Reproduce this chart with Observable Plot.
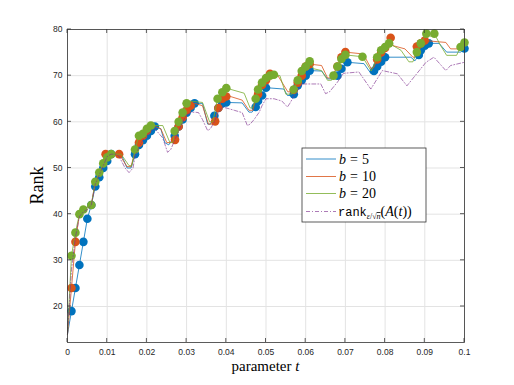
<!DOCTYPE html>
<html><head><meta charset="utf-8">
<script src="https://cdn.jsdelivr.net/npm/d3@7"></script>
<script src="https://cdn.jsdelivr.net/npm/@observablehq/plot@0.6"></script>
<style>body{margin:0;background:#fff} svg{display:block}</style>
</head><body><div id="chart"></div>
<script>
const xTicks = [0,0.01,0.02,0.03,0.04,0.05,0.06,0.07,0.08,0.09,0.1];
const xTickLabels = ["0","0.01","0.02","0.03","0.04","0.05","0.06","0.07","0.08","0.09","0.1"];
const yTicks = [20,30,40,50,60,70,80];
const yDomain = [12.2, 80];

// b = 5
const blueT = [0,.001,.002,.003,.004,.005,.006,.007,.008,.009,.010,.011,.0135,.015,.016,.017,.018,.019,.020,.021,.022,.0235,.0245,.0255,.027,.028,.029,.030,.031,.032,.034,.0353,.036,.037,.038,.039,.040,.044,.0457,.0465,.0474,.048,.049,.050,.0545,.0554,.0565,.057,.058,.059,.060,.061,.064,.0655,.0665,.068,.069,.0705,.0747,.0764,.0772,.078,.079,.080,.0865,.0875,.0885,.089,.090,.091,.0936,.0955,.099,.100];
const blueV = [14,19,24,29,34,39,42,46,48,50,51.5,53,53,50,50,53,55,56,57,58,59,58.5,55.5,55,57,59,60.5,62,63,64,64,59.5,59.5,61.3,63,64,64.2,64.1,62.1,62.1,63.2,64.5,65.7,67.4,67.1,65.7,65.7,66,67.9,69,70,71.1,71,69.3,69.3,70,71.5,72.9,72.6,70.5,71,72,73,74,74,73.2,74.5,75.5,76.5,77,77,75.1,75.1,75.9];
const blueMarks = [.001,.002,.003,.004,.005,.006,.007,.008,.009,.010,.011,.017,.018,.019,.020,.021,.022,.027,.028,.029,.030,.031,.032,.037,.038,.039,.040,.0474,.048,.049,.050,.057,.058,.059,.060,.061,.068,.069,.0705,.0772,.078,.079,.080,.0885,.089,.090,.091,.100];

// b = 10
const orangeT = [0,.001,.002,.003,.004,.005,.006,.007,.008,.009,.0096,.011,.013,.015,.016,.017,.018,.019,.020,.021,.022,.0235,.025,.026,.0271,.028,.029,.030,.031,.032,.034,.0355,.0365,.0372,.038,.039,.040,.041,.044,.0457,.0467,.047,.048,.049,.050,.051,.053,.0555,.0565,.057,.058,.059,.060,.061,.064,.0655,.0665,.067,.068,.069,.070,.0745,.0765,.0772,.078,.079,.080,.0814,.082,.085,.087,.0875,.088,.089,.090,.0953,.0965,.100];
const orangeV = [14,24,34,40,41,41.5,42,47,49,51,53,53,53,50.3,50.3,53.5,55.5,57,58.1,59,59,58.5,55.5,55.5,56.1,59,61,62.5,63.5,64,63.5,59.5,59.5,60.1,63,65,65.5,65.5,64.7,62.5,62.5,63.5,66,68,69,70.4,70,66.5,66.5,66.9,68.5,70,72,72.5,72.2,69.5,69.5,70.5,72,74,75.1,74.7,71.5,71.8,73.5,75,76,78.2,76.5,75.8,74,74,76.3,77,77.6,77.2,75.8,75.8];
const orangeMarks = [.001,.002,.0096,.013,.018,.019,.020,.0271,.028,.029,.030,.031,.0372,.038,.039,.040,.048,.049,.050,.051,.057,.058,.059,.060,.061,.068,.069,.070,.078,.079,.080,.0814,.088,.089,.090];

// b = 20
const greenT = [0,.001,.002,.003,.004,.005,.006,.007,.008,.009,.010,.011,.0135,.0155,.0162,.017,.018,.019,.020,.021,.024,.0258,.0265,.027,.028,.029,.030,.031,.034,.0358,.0366,.0378,.039,.040,.0445,.046,.0466,.0474,.048,.049,.050,.051,.052,.0535,.055,.0565,.057,.058,.059,.060,.061,.062,.064,.0655,.0665,.067,.068,.069,.070,.0743,.0765,.077,.078,.079,.080,.081,.084,.086,.087,.088,.089,.0904,.0915,.0924,.094,.0955,.098,.099,.100];
const greenV = [14,31,36,40,41,41.5,42,47,49,51,52.3,53,53,50.5,50.5,54,57,57.4,58.5,59.2,59.2,55.5,55.5,58,60,62,64,64.5,64.2,60,60,65,66.4,67.3,66.2,63,63,65,67,68.5,69.5,70,70.2,70,66,66,67,69,71,72,73.1,71.5,71.1,69,69,70,72,73.6,74.5,74.1,71,72,74,75.5,76.2,77,75.5,73,73,75.1,77,79.1,78.5,79.1,76.5,74.4,74.4,76.2,77.2];
const greenMarks = [.001,.002,.003,.004,.006,.007,.008,.009,.010,.011,.017,.018,.019,.020,.021,.027,.028,.029,.030,.0378,.039,.040,.0474,.048,.049,.050,.051,.052,.057,.058,.059,.060,.061,.067,.068,.069,.070,.0743,.078,.079,.080,.081,.088,.089,.0904,.0924,.099,.100];

// rank_{eps/sqrt(n)}(A(t))
const rankT = [0,.001,.002,.003,.004,.005,.006,.007,.008,.009,.010,.011,.012,.013,.0145,.0155,.0165,.017,.018,.019,.020,.021,.022,.023,.024,.0252,.026,.027,.028,.029,.030,.031,.032,.033,.034,.0353,.036,.037,.038,.039,.040,.042,.044,.0453,.046,.047,.0483,.049,.050,.052,.054,.0554,.056,.057,.0585,.0592,.0638,.065,.066,.068,.0695,.0734,.0764,.0793,.0831,.0855,.0903,.0923,.0953,.0965,.100];
const rankV = [14,28,35,39.5,40.5,41,42,46.5,48.5,50.5,52.5,53,53,52.5,50,49,50,52.5,54.5,56,57,58,58.5,57.5,56.5,53.4,54,56,58,60,61.5,62,62.1,62,60.5,58.1,58.5,60,62,63.2,63,62.5,62,59.2,59.5,60.5,62.1,63.5,65,65,64.5,63.2,64,65.5,67.5,68.2,68.2,66.1,66.5,68.6,70.5,70.8,67.1,71.1,70.4,67.8,72.9,74,71.1,72.2,72.9];

const C = {blue:"#0072BD", orange:"#D95319", green:"#77AC30", purple:"#7E2F8E"};

function rows(T, V, M) {
  return T.map((t, i) => ({t, v: V[i], m: M ? M.some(m => Math.abs(m - t) < 1e-9) : false}));
}
const blue = rows(blueT, blueV, blueMarks);
const orange = rows(orangeT, orangeV, orangeMarks);
const green = rows(greenT, greenV, greenMarks);
const rank = rows(rankT, rankV, null);

const series = [[blue, C.blue], [orange, C.orange], [green, C.green]];
const marks = [
  Plot.gridX(xTicks, {stroke: "#e3e3e3", strokeOpacity: 1, strokeWidth: 1}),
  Plot.gridY(yTicks, {stroke: "#e3e3e3", strokeOpacity: 1, strokeWidth: 1}),
];
for (const [d, c] of series) {
  marks.push(Plot.line(d, {x: "t", y: "v", stroke: c, strokeWidth: 0.8}));
  marks.push(Plot.dot(d.filter(e => e.m), {x: "t", y: "v", r: 4.3, fill: c, stroke: "none"}));
}
marks.push(Plot.line(rank, {x: "t", y: "v", stroke: C.purple, strokeWidth: 0.8, strokeDasharray: "4,2,1,2", strokeOpacity: 0.8}));
marks.push(Plot.frame({stroke: "#333", strokeWidth: 0.8}));
marks.push(Plot.axisX(xTicks, {tickSize: 0, tickPadding: 6, tickFormat: (d, i) => xTickLabels[i], fontSize: 8.5, fill: "#262626", label: null}));
marks.push(Plot.axisY(yTicks, {tickSize: 0, tickPadding: 5, fontSize: 8.5, fill: "#262626", label: null}));

const svgEl = Plot.plot({
  width: 514, height: 385,
  marginLeft: 67, marginRight: 50, marginTop: 29, marginBottom: 43,
  x: {domain: [0, 0.1]},
  y: {domain: yDomain},
  style: {fontFamily: "'Liberation Sans', Arial, sans-serif", background: "#fff"},
  marks
});
document.getElementById("chart").appendChild(svgEl);

const xs = svgEl.scale("x"), ys = svgEl.scale("y");
const svg = d3.select(svgEl);
const [x0, x1] = xs.range, [yb, yt] = ys.range;
const tk = svg.append("g").attr("stroke", "#333").attr("stroke-width", 0.8);
for (const v of xTicks) {
  const px = xs.apply(v);
  tk.append("line").attr("x1", px).attr("x2", px).attr("y1", yb).attr("y2", yb - 4);
  tk.append("line").attr("x1", px).attr("x2", px).attr("y1", yt).attr("y2", yt + 4);
}
for (const v of yTicks) {
  const py = ys.apply(v);
  tk.append("line").attr("x1", x0).attr("x2", x0 + 4).attr("y1", py).attr("y2", py);
  tk.append("line").attr("x1", x1).attr("x2", x1 - 4).attr("y1", py).attr("y2", py);
}

const serif = "'Liberation Serif', 'DejaVu Serif', serif";
// axis labels
const xl = svg.append("text").attr("x", (x0 + x1) / 2).attr("y", 371).attr("text-anchor", "middle")
  .attr("font-family", serif).attr("font-size", 15).attr("fill", "#000");
xl.append("tspan").text("parameter ");
xl.append("tspan").attr("font-style", "italic").text("t");
svg.append("text").attr("transform", `translate(43,${(yb + yt) / 2}) rotate(-90)`).attr("text-anchor", "middle")
  .attr("font-family", serif).attr("font-size", 18).attr("fill", "#000").text("Rank");

// legend
const lg = svg.append("g").attr("text-anchor", "start");
lg.append("rect").attr("x", 302).attr("y", 148).attr("width", 124).attr("height", 74)
  .attr("fill", "#fff").attr("stroke", "#333").attr("stroke-width", 0.8);
const entries = [
  {c: C.blue, lab: "5"}, {c: C.orange, lab: "10"}, {c: C.green, lab: "20"}
];
const rowsY = [159, 176.5, 193.5, 211.5];
entries.forEach((e, i) => {
  const y = rowsY[i];
  lg.append("line").attr("x1", 306).attr("x2", 336).attr("y1", y).attr("y2", y).attr("stroke", e.c).attr("stroke-width", 0.8);
  const t = lg.append("text").attr("x", 339).attr("y", y + 4.5).attr("text-anchor", "start").attr("font-family", serif).attr("font-size", 14).attr("fill", "#000");
  t.append("tspan").attr("font-style", "italic").text("b");
  t.append("tspan").attr("dx", 4).text("=");
  t.append("tspan").attr("dx", 4).text(e.lab);
});
{
  const y = rowsY[3];
  lg.append("line").attr("x1", 306).attr("x2", 336).attr("y1", y).attr("y2", y).attr("stroke", C.purple)
    .attr("stroke-width", 0.8).attr("stroke-dasharray", "4,2,1,2").attr("stroke-opacity", 0.8);
  const t = lg.append("text").attr("x", 338).attr("y", y + 4.5).attr("text-anchor", "start").attr("font-family", serif).attr("font-size", 14).attr("fill", "#000");
  t.append("tspan").attr("font-family", "'Liberation Mono', 'DejaVu Sans Mono', monospace").attr("font-size", 12).text("rank");
  t.append("tspan").attr("font-size", 8).attr("dy", 3).attr("font-style", "italic").text("ε");
  t.append("tspan").attr("font-size", 8).text("/√");
  t.append("tspan").attr("font-size", 8).attr("font-style", "italic").attr("text-decoration", "overline").text("n");
  t.append("tspan").attr("dy", -3).text("(");
  t.append("tspan").attr("font-style", "italic").text("A");
  t.append("tspan").text("(");
  t.append("tspan").attr("font-style", "italic").text("t");
  t.append("tspan").text("))");
}
</script>
</body></html>
